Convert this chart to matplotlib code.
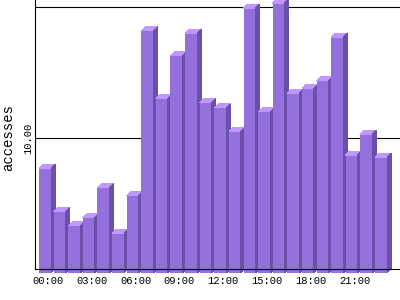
import matplotlib
matplotlib.use("Agg")
import matplotlib.pyplot as plt
from matplotlib.patches import Polygon

# ---------------------------------------------------------------------------
# Data
# ---------------------------------------------------------------------------
hours = [f"{h:02d}:00" for h in range(24)]
accesses = [8.0, 4.7, 3.6, 4.2, 6.5, 3.05, 5.9, 18.5, 13.3, 16.6, 18.3, 13.0,
            12.6, 10.8, 20.2, 12.3, 20.6, 13.7, 14.1, 14.7, 18.0, 9.0, 10.6, 8.85]
tick_hours = [0, 3, 6, 9, 12, 15, 18, 21]
y_ticks = [10]
y_grid = [10, 20]

FRONT = "#9370DB"
TOP = "#C096FF"
SIDE = "#6A50A8"

fig = plt.figure(figsize=(4, 3), dpi=100)
ax = fig.add_axes([35 / 400, 25 / 300, 1 - 35 / 400, 275 / 300])

# pixel scale: 0 at y=269px, 20 at y=7px
px_per_unit = (269 - 7) / 20
px_per_slot = 14.6
ax.set_ylim(-(275 - 269) / px_per_unit, 269 / px_per_unit)
ax.set_xlim(-10 / px_per_slot, 24.3)

dx = 4 / px_per_slot   # depth offset, data units
dy = 4 / px_per_unit
half = 6 / px_per_slot

for y in y_grid:
    ax.axhline(y, color="black", lw=0.8, zorder=1)

for i, v in enumerate(accesses):
    x0, x1 = i - half, i + half
    y0, y1 = -dy, v - dy
    front = [(x0, y0), (x1, y0), (x1, y1), (x0, y1)]
    top = [(x0, y1), (x1, y1), (x1 + dx, y1 + dy), (x0 + dx, y1 + dy)]
    side = [(x1, y0), (x1 + dx, y0 + dy), (x1 + dx, y1 + dy), (x1, y1)]
    for pts, c in ((front, FRONT), (top, TOP), (side, SIDE)):
        ax.add_patch(Polygon(pts, closed=True, facecolor=c, edgecolor="none",
                             antialiased=False, zorder=2, clip_on=False))

for s in ("top", "right"):
    ax.spines[s].set_visible(False)
ax.spines["bottom"].set_position(("data", 0))
ax.spines["bottom"].set_zorder(3)
ax.spines["left"].set_bounds(0, 21)
for s in ("bottom", "left"):
    ax.spines[s].set_linewidth(0.8)

mono = "Liberation Mono"
ax.set_xticks([h + 0.2 for h in tick_hours])
ax.set_xticklabels([hours[h] for h in tick_hours], family=mono, fontsize=7.6)
ax.tick_params(axis="x", length=0, pad=5)
ax.set_yticks(y_ticks)
ax.set_yticklabels([f"{t:.2f}" for t in y_ticks], family=mono, fontsize=7.6,
                   rotation=90, va="center")
ax.tick_params(axis="y", length=0, pad=1)
ax.set_ylabel("accesses", family=mono, fontsize=10, labelpad=6)

fig.savefig("out.png", dpi=100)
